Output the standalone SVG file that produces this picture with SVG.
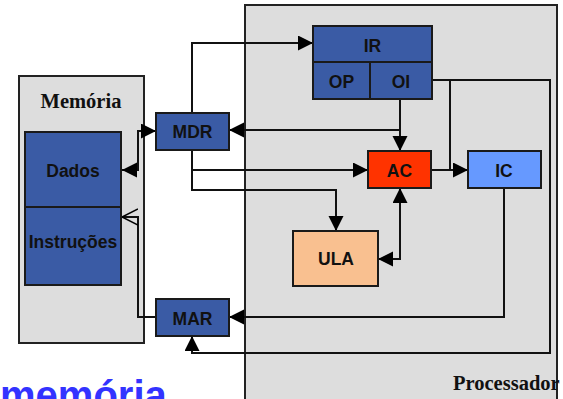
<svg xmlns="http://www.w3.org/2000/svg" width="563" height="399" viewBox="0 0 563 399">
<defs>
<style>
.frame{fill:#dddddd;stroke:#222;stroke-width:2}
.box{stroke:#1a1a1a;stroke-width:2}
.blue{fill:#3a5ba5}
.lbl{font-family:"Liberation Sans",Arial,sans-serif;font-weight:bold;font-size:17.5px;fill:#111;text-anchor:middle}
.title{font-family:"Liberation Serif","Times New Roman",serif;font-weight:bold;font-size:20.5px;fill:#111}
.wire{fill:none;stroke:#111;stroke-width:2}
</style>
<marker id="ah" markerUnits="userSpaceOnUse" markerWidth="16" markerHeight="16" refX="15" refY="7.5" orient="auto-start-reverse">
<path d="M0,0 L15,7.5 L0,15 z" fill="#000"/>
</marker>
<marker id="oh" markerUnits="userSpaceOnUse" markerWidth="20" markerHeight="20" refX="16" refY="9" orient="auto">
<path d="M0,1 L16,9 L0,17" fill="none" stroke="#000" stroke-width="1.5"/>
</marker>
</defs>
<rect width="563" height="399" fill="#fff"/>

<g id="processador">
<rect class="frame" x="245" y="5" width="312" height="410"/>
<text class="title" x="453" y="390">Processador</text>
</g>
<g id="memoria">
<rect class="frame" x="19" y="76" width="125" height="267"/>
<text class="title" x="81" y="108" text-anchor="middle">Memória</text>
</g>

<g id="connectors">
<path class="wire" d="M192,113 V43 H313" marker-end="url(#ah)"/>
<path class="wire" d="M156,131 H138 V170 H122" marker-start="url(#ah)" marker-end="url(#ah)"/>
<path class="wire" d="M156,317 H138 V217 H122" marker-end="url(#oh)"/>
<path class="wire" d="M400,99 V151" marker-end="url(#ah)"/>
<path class="wire" d="M400,130 H229" marker-end="url(#ah)"/>
<path class="wire" d="M192,150 V190 H336 V231" marker-end="url(#ah)"/>
<path class="wire" d="M192,170 H368" marker-end="url(#ah)"/>
<path class="wire" d="M400,188 V259 H378" marker-start="url(#ah)" marker-end="url(#ah)"/>
<path class="wire" d="M431,170 H468" marker-end="url(#ah)"/>
<path class="wire" d="M432,80 H550 V353 H192 V336" marker-end="url(#ah)"/>
<path class="wire" d="M450,80 V170"/>
<path class="wire" d="M504,188 V317 H229" marker-end="url(#ah)"/>
</g>

<g id="dados">
<rect class="box blue" x="25" y="132" width="96" height="75"/>
<text class="lbl" x="73" y="176.5">Dados</text>
</g>
<g id="instrucoes">
<rect class="box blue" x="25" y="207" width="96" height="78"/>
<text class="lbl" x="73" y="248">Instruções</text>
</g>
<g id="mdr">
<rect class="box blue" x="156" y="113" width="73" height="37"/>
<text class="lbl" x="192.5" y="138">MDR</text>
</g>
<g id="mar">
<rect class="box blue" x="156" y="299" width="73" height="37"/>
<text class="lbl" x="192.5" y="324.5">MAR</text>
</g>
<g id="ir">
<rect class="box blue" x="313" y="26" width="119" height="73"/>
<line class="box" x1="313" y1="62" x2="432" y2="62"/>
<line class="box" x1="370" y1="62" x2="370" y2="99"/>
<text class="lbl" x="372.5" y="51.5">IR</text>
<text class="lbl" x="341.5" y="88">OP</text>
<text class="lbl" x="401" y="88">OI</text>
</g>
<g id="ac">
<rect class="box" fill="#ff3300" x="368" y="151" width="63" height="37"/>
<text class="lbl" x="399.5" y="176.5">AC</text>
</g>
<g id="ic">
<rect class="box" fill="#6699ff" x="468" y="151" width="73" height="37"/>
<text class="lbl" x="504" y="176.5">IC</text>
</g>
<g id="ula">
<rect class="box" fill="#f9c090" x="293" y="231" width="85" height="55"/>
<text class="lbl" x="336" y="265">ULA</text>
</g>

<text x="0" y="409" font-family="'Liberation Sans',Arial,sans-serif" font-weight="bold" font-size="40" fill="#3333ff">memória</text>
</svg>
